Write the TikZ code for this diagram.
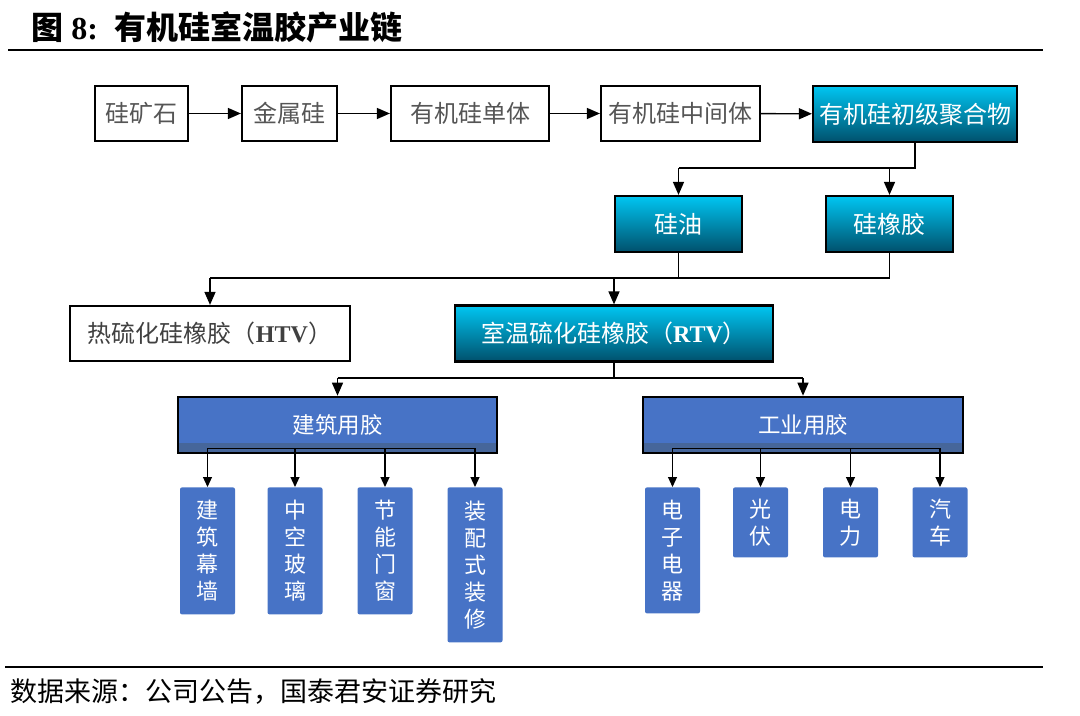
\documentclass[tikz,border=0pt]{standalone}
\usepackage{fontspec}
\setmainfont{Liberation Serif}
\newfontfamily\cjk{Noto Sans CJK SC}
\usepackage{xcolor}
\usepackage{tikz}
\usetikzlibrary{positioning,calc,arrows.meta}

\definecolor{cyantop}{HTML}{00C6F2}
\definecolor{cyanbot}{HTML}{00506C}
\definecolor{bluefill}{HTML}{4773C6}
\definecolor{bluedark}{HTML}{46669A}
\definecolor{graytext}{HTML}{555555}

\begin{document}
\begin{tikzpicture}[x=0.5pt,y=-0.5pt,
    plainbox/.style={draw=black, line width=1.1pt, fill=white, text=graytext, inner sep=0pt,
        font=\cjk\fontsize{12}{14}\selectfont, minimum height=27.5pt},
    cyanbox/.style={draw=black, line width=1.1pt, top color=cyantop, bottom color=cyanbot, text=white,
        inner sep=0pt, font=\cjk\fontsize{12}{14}\selectfont, minimum height=28pt},
    groupbox/.style={draw=black, line width=1.3pt, fill=bluefill, text=white, inner sep=0pt,
        font=\cjk\fontsize{11.25}{13}\selectfont, minimum height=28pt,
        path picture={\fill[bluedark] ($(path picture bounding box.south west)+(0,-10)$) rectangle (path picture bounding box.south east);}},
    leafbox/.style={fill=bluefill, rounded corners=1pt, text=white, align=center, inner sep=0pt,
        font=\cjk\fontsize{11}{13.5}\selectfont, minimum width=27.5pt, minimum height=#1, anchor=north},
    arr/.style={line width=0.7pt, -{Triangle[length=6.5pt,width=5.5pt]}},
    smallarr/.style={line width=0.6pt, -{Triangle[length=5pt,width=4.5pt]}},
    link/.style={line width=0.7pt}]
    \useasboundingbox (0,0) rectangle (1080,716);

    % Title and rules
    \node[anchor=west, inner sep=0pt] (title) at (31,27)
        {\fontsize{16}{18}\selectfont{\cjk\bfseries 图} \textbf{8:}\hspace{0.5em}{\cjk\bfseries 有机硅室温胶产业链}};
    \draw[line width=1pt] (8,50) -- (1043,50);
    \draw[line width=1pt] (5,667) -- (1043,667);
    \node[anchor=west, inner sep=0pt] (source) at (10,692)
        {\cjk\fontsize{13.5}{16}\selectfont 数据来源：公司公告，国泰君安证券研究};

    % Upstream chain
    \node[plainbox, minimum width=46.5pt] (ore) at (141.5,113.5) {硅矿石};
    \node[plainbox, minimum width=47.5pt] (metal) at (289.5,113.5) {金属硅};
    \node[plainbox, minimum width=79pt] (mono) at (470,113.5) {有机硅单体};
    \node[plainbox, minimum width=79.5pt] (inter) at (680.5,113.5) {有机硅中间体};
    \node[cyanbox, minimum width=102pt] (poly) at (915,114) {有机硅初级聚合物};
    \draw[arr] (ore) -- (metal);
    \draw[arr] (metal) -- (mono);
    \draw[arr] (mono) -- (inter);
    \draw[arr] (inter) -- (poly);

    % Oil and rubber
    \node[cyanbox, minimum width=63.5pt] (oil) at (678.5,224) {硅油};
    \node[cyanbox, minimum width=63.5pt] (rubber) at (889.5,224) {硅橡胶};
    \coordinate (j1) at (678.5,168);
    \draw[link] (poly.south) |- (j1);
    \draw[arr] (j1) -- (oil);
    \draw[arr] (j1 -| rubber) -- (rubber);

    % HTV and RTV
    \node[plainbox, text=black!75, minimum width=140pt] (htv) at (210,333.5)
        {热硫化硅橡胶（{\rmfamily\bfseries HTV}）};
    \node[cyanbox, minimum width=159pt] (rtv) at (614,333.5)
        {室温硫化硅橡胶（{\rmfamily\bfseries RTV}）};
    \coordinate (j2) at (210,278);
    \draw[link] (oil.south) -- (oil.south |- j2);
    \draw[link] (rubber.south) |- (j2);
    \draw[arr] (j2) -- (htv);
    \draw[arr] (j2 -| rtv) -- (rtv);

    % Building and industrial sealants
    \node[groupbox, minimum width=159.5pt] (bld) at (337.5,425) {建筑用胶};
    \node[groupbox, minimum width=160pt] (ind) at (803,425) {工业用胶};
    \coordinate (j3) at (337.5,378);
    \draw[link] (rtv.south) -- (rtv.south |- j3);
    \draw[link] (j3) -- (j3 -| ind);
    \draw[arr] (j3) -- (bld);
    \draw[arr] (j3 -| ind) -- (ind);

    % Applications
    \foreach \n/\x/\h/\t in {l1/207.5/63.5/{建\\筑\\幕\\墙}, l2/295/63.5/{中\\空\\玻\\璃},
            l3/385/63.5/{节\\能\\门\\窗}, l4/475/77.5/{装\\配\\式\\装\\修},
            i1/672.5/63/{电\\子\\电\\器}, i2/760.5/35/{光\\伏},
            i3/850.5/35/{电\\力}, i4/940/35/{汽\\车}}
        \node[leafbox=\h pt] (\n) at (\x,487) {\t};
    \coordinate (bj) at (0,448);
    \draw[line width=0.5pt] (l1 |- bj) -- (l4 |- bj);
    \draw[line width=0.5pt] (i1 |- bj) -- (i4 |- bj);
    \foreach \n in {l1,l2,l3,l4,i1,i2,i3,i4}
        \draw[smallarr] (\n |- bj) -- (\n);
\end{tikzpicture}
\end{document}
